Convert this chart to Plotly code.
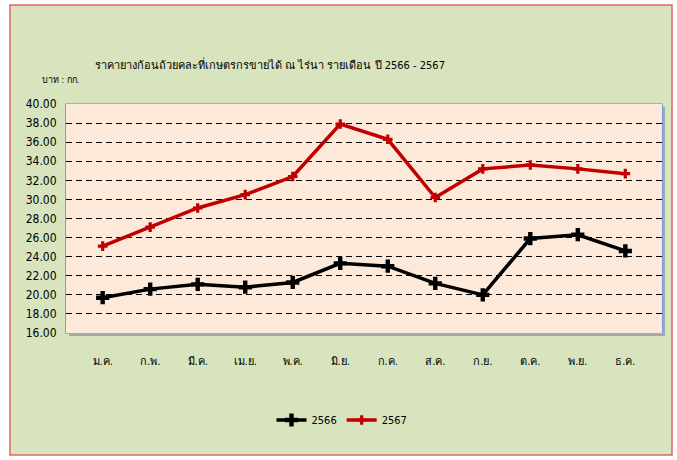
import plotly.graph_objects as go

months = ["ม.ค.", "ก.พ.", "มี.ค.", "เม.ย.", "พ.ค.", "มิ.ย.", "ก.ค.", "ส.ค.", "ก.ย.", "ต.ค.", "พ.ย.", "ธ.ค."]
price_2566 = [19.7, 20.6, 21.1, 20.8, 21.3, 23.3, 23.0, 21.2, 20.0, 25.9, 26.3, 24.6]
price_2567 = [25.1, 27.1, 29.1, 30.5, 32.4, 37.9, 36.3, 30.2, 33.2, 33.6, 33.2, 32.7]
y_ticks = [16, 18, 20, 22, 24, 26, 28, 30, 32, 34, 36, 38, 40]
y_tick_text = [f"{v:.2f}" for v in y_ticks]

title_text = "ราคายางก้อนถ้วยคละที่เกษตรกรขายได้ ณ ไร่นา รายเดือน ปี 2566 - 2567"
unit_text = "บาท : กก."

FONT = "Liberation Sans Narrow, Arial Narrow, DejaVu Sans Condensed, sans-serif"

fig = go.Figure()
fig.add_trace(go.Scatter(
    x=months, y=price_2566, name="2566", mode="lines+markers",
    line=dict(color="#000000", width=3.5),
    marker=dict(symbol="cross", size=11, color="#000000"),
))
fig.add_trace(go.Scatter(
    x=months, y=price_2567, name="2567", mode="lines+markers",
    line=dict(color="#C00000", width=3.5),
    marker=dict(symbol="cross", size=8, color="#C00000"),
))

L, R, T, B = 66, 15, 104, 127
W, H = 677, 460
pw, ph = W - L - R, H - T - B

def px(x):
    return (x - L) / pw

def py(y):
    return (H - B - y) / ph

shapes = [
    # green outer panel with red border
    dict(type="rect", xref="paper", yref="paper", layer="below",
         x0=px(10), x1=px(672), y0=py(455), y1=py(5),
         fillcolor="#D7E4BD", line=dict(color="#E06666", width=1.5)),
    # shadow of plot area
    dict(type="rect", xref="paper", yref="paper", layer="below",
         x0=px(L + 3), x1=px(W - R + 3), y0=py(H - B + 3), y1=py(T + 3),
         fillcolor="#A6A6A6", line=dict(width=0)),
    # plot area background
    dict(type="rect", xref="paper", yref="paper", layer="below",
         x0=0, x1=1, y0=0, y1=1,
         fillcolor="#FDE9D9", line=dict(width=0)),
]

fig.update_layout(
    template="none",
    width=W, height=H,
    margin=dict(l=L, r=R, t=T, b=B, autoexpand=False),
    paper_bgcolor="#FFFFFF",
    plot_bgcolor="rgba(0,0,0,0)",
    font=dict(family=FONT, size=12, color="#000000"),
    shapes=shapes,
    showlegend=True,
    legend=dict(orientation="h", x=px(342), xanchor="center", y=py(420), yanchor="middle",
                bgcolor="rgba(0,0,0,0)", font=dict(size=11, family=FONT),
                itemwidth=30, tracegroupgap=0),
    annotations=[
        dict(text=title_text, xref="paper", yref="paper", x=px(270), y=py(65),
             xanchor="center", yanchor="middle", showarrow=False,
             font=dict(size=11, family=FONT)),
        dict(text=unit_text, xref="paper", yref="paper", x=px(40), y=py(80),
             xanchor="left", yanchor="middle", showarrow=False,
             font=dict(size=9, family=FONT)),
    ],
)
fig.update_xaxes(
    type="category", showgrid=False, ticks="", ticklabelstandoff=18,
    showline=True, linecolor="#8DB3E2", linewidth=1, mirror=True,
    tickfont=dict(size=11, family=FONT), zeroline=False, automargin=False,
)
fig.update_yaxes(
    range=[16, 40], tickvals=y_ticks, ticktext=y_tick_text,
    showgrid=True, gridcolor="#000000", gridwidth=1.3, griddash="6px,4px",
    showline=True, linecolor="#6FA0DC", linewidth=1, mirror=True,
    ticks="", ticklabelstandoff=6, zeroline=False, automargin=False,
    tickfont=dict(size=12, family=FONT),
)

fig.write_html(
    "out.html",
    config={"displayModeBar": False},
    post_script="document.body.style.margin='0';document.body.style.overflow='hidden';",
)
